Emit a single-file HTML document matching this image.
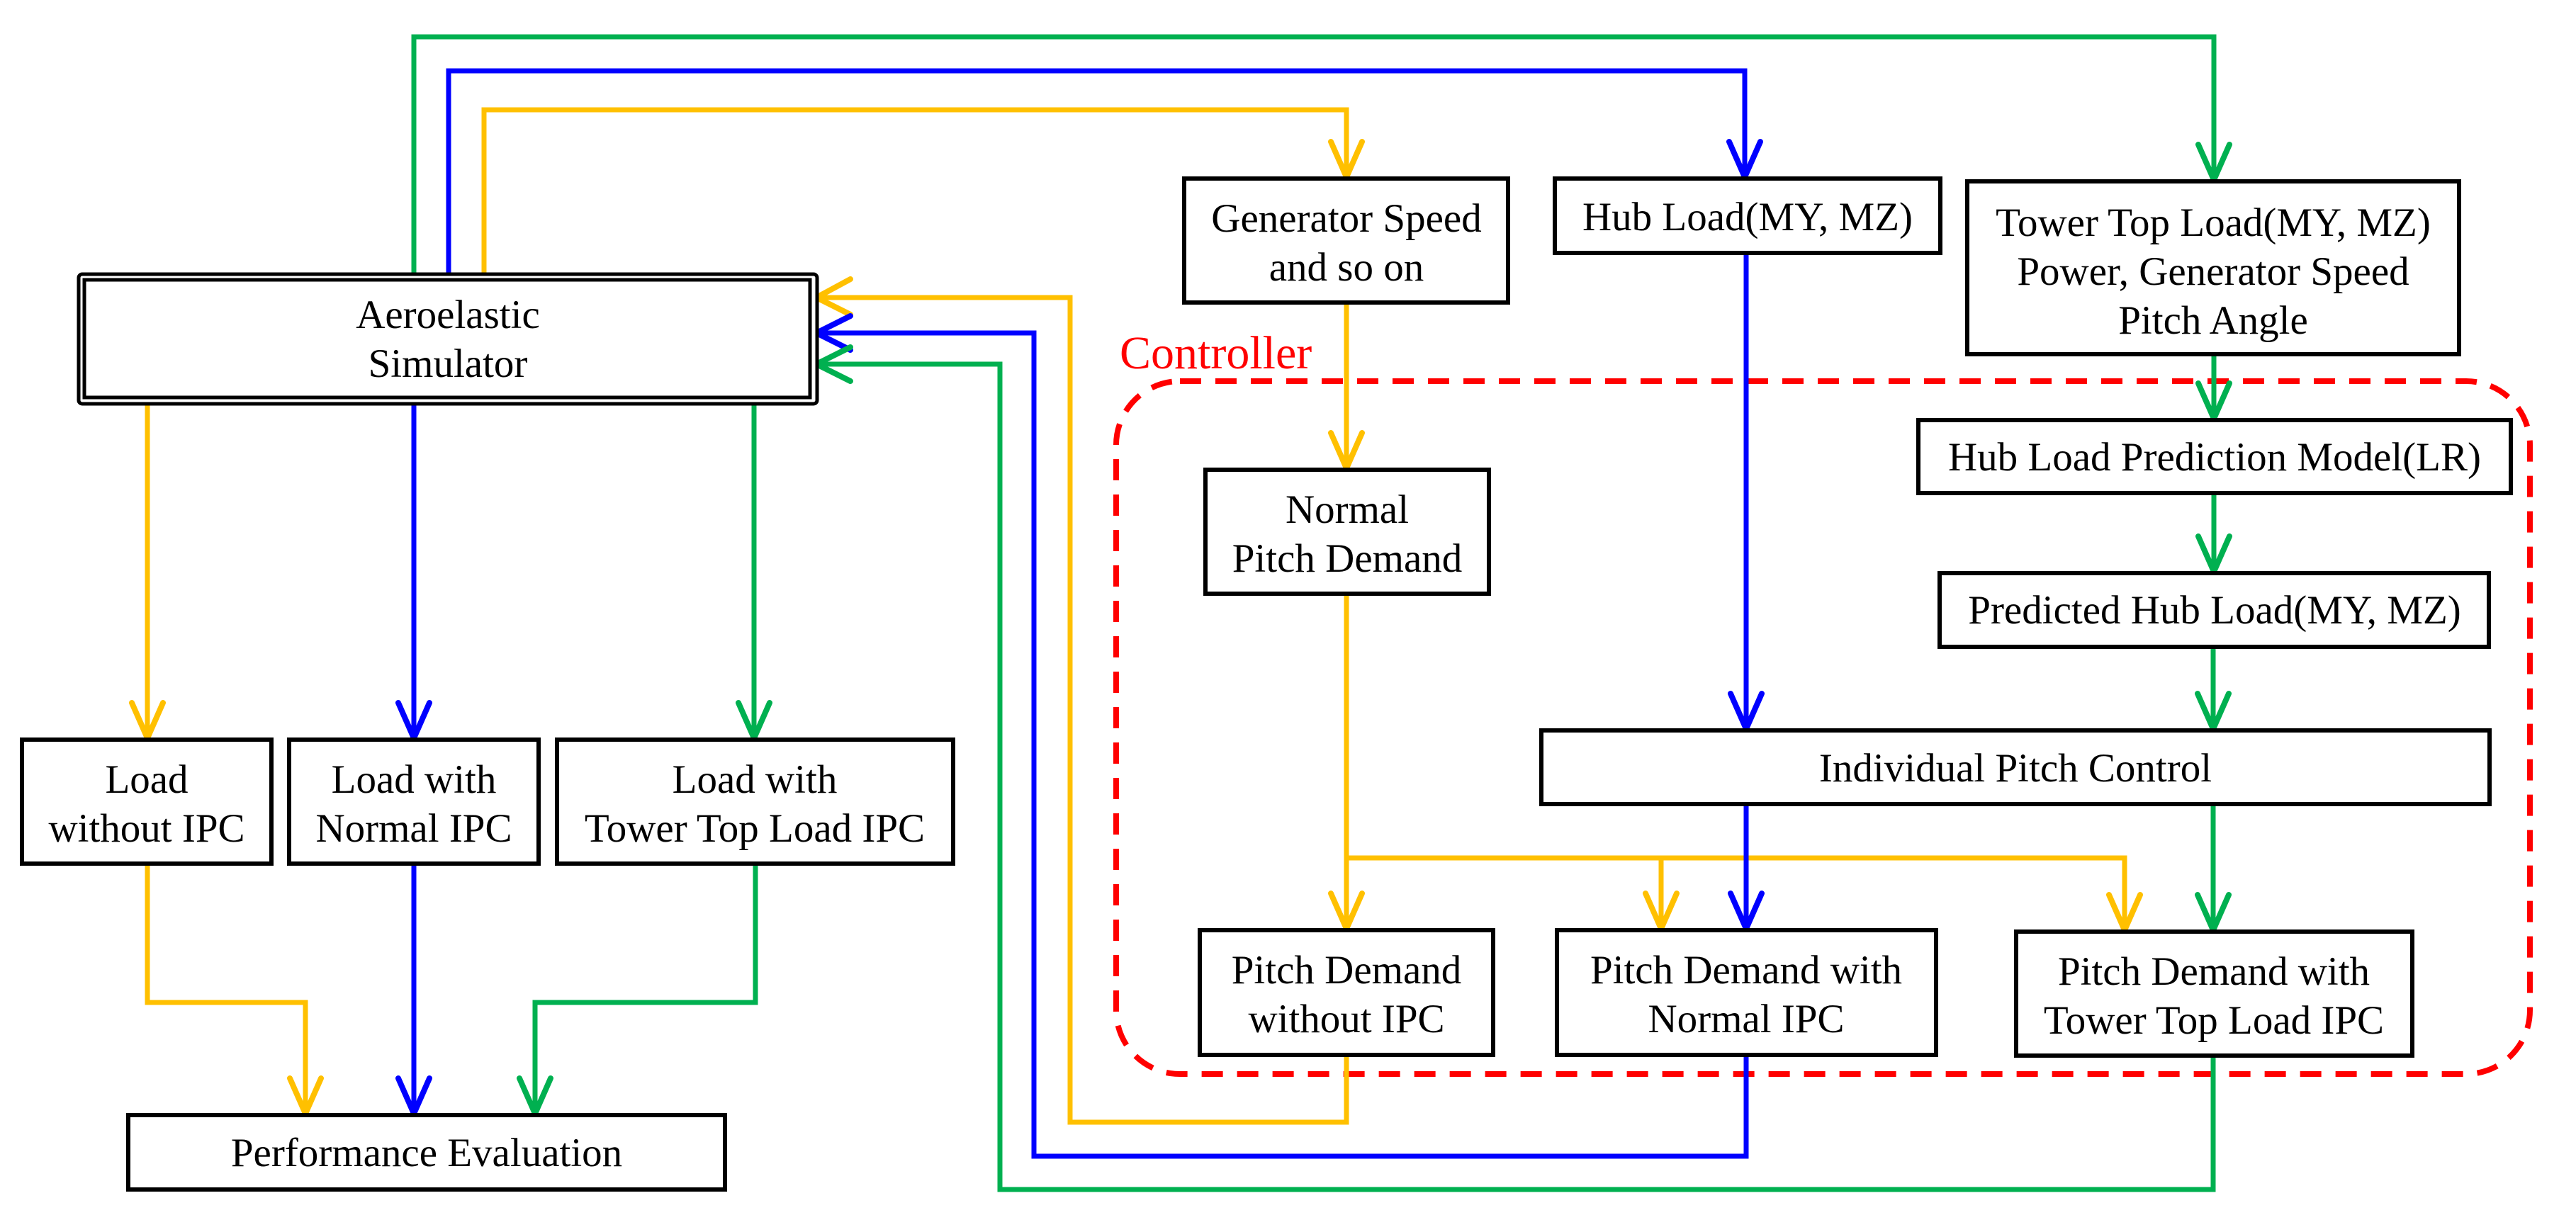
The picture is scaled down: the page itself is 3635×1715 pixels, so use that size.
<!DOCTYPE html>
<html><head><meta charset="utf-8"><style>
html,body{margin:0;padding:0;background:#fff;}
svg{display:block;}
text{font-family:"Liberation Serif","Times New Roman","DejaVu Serif",serif;font-size:57px;fill:#000;text-anchor:middle;}
</style></head><body>
<svg width="3635" height="1715" viewBox="0 0 3635 1715" xmlns="http://www.w3.org/2000/svg">
<defs>
<style>
.y{stroke:#FFC000;}.b{stroke:#0000FF;}.g{stroke:#00B050;}
.ln{fill:none;stroke-width:7;stroke-linejoin:miter;}
.ah{fill:none;stroke-width:8;stroke-linecap:round;stroke-linejoin:miter;}
.bx{fill:#fff;stroke:#000;stroke-width:6;}
</style>
</defs>

<rect x="1575" y="538" width="1995" height="978" rx="90" ry="90" fill="none" stroke="#FF0000" stroke-width="8" stroke-dasharray="30 20"/>
<text x="1580" y="520" style="font-size:66px;fill:#FF0000;text-anchor:start">Controller</text>

<path class="ln g" d="M584,387 V52 H3124 V254"/>
<path class="ln b" d="M633,387 V100 H2462 V250"/>
<path class="ln y" d="M683,387 V155 H1900 V250"/>
<path class="ln y" d="M1900,427 V661"/>
<path class="ln y" d="M1900,838 V1311"/>
<path class="ln y" d="M1900,1211 H2998 V1313"/>
<path class="ln y" d="M2344,1211 V1311"/>
<path class="ln b" d="M2464,357 V1029"/>
<path class="ln g" d="M3124,500 V591"/>
<path class="ln g" d="M3124,696 V807"/>
<path class="ln g" d="M3123,913 V1029"/>
<path class="ln b" d="M2464,1135 V1311"/>
<path class="ln g" d="M3123,1135 V1313"/>
<path class="ln y" d="M1900,1489 V1584 H1510 V420 H1155"/>
<path class="ln b" d="M2464,1490 V1632 H1459 V470 H1155"/>
<path class="ln g" d="M3123,1490 V1679 H1411 V514 H1155"/>
<path class="ln y" d="M208,570 V1042"/>
<path class="ln b" d="M584,570 V1042"/>
<path class="ln g" d="M1064,570 V1042"/>
<path class="ln y" d="M208,1219 V1415 H431 V1572"/>
<path class="ln b" d="M584,1219 V1572"/>
<path class="ln g" d="M1066,1219 V1415 H755 V1572"/>

<g>
<path class="ah g" d="M3102,204 L3124,254 L3146,204"/>
<path class="ah b" d="M2440,200 L2462,250 L2484,200"/>
<path class="ah y" d="M1878,200 L1900,250 L1922,200"/>
<path class="ah y" d="M1878,611 L1900,661 L1922,611"/>
<path class="ah g" d="M3102,541 L3124,591 L3146,541"/>
<path class="ah g" d="M3102,757 L3124,807 L3146,757"/>
<path class="ah g" d="M3101,979 L3123,1029 L3145,979"/>
<path class="ah b" d="M2442,979 L2464,1029 L2486,979"/>
<path class="ah y" d="M1878,1261 L1900,1311 L1922,1261"/>
<path class="ah y" d="M2322,1261 L2344,1311 L2366,1261"/>
<path class="ah b" d="M2442,1261 L2464,1311 L2486,1261"/>
<path class="ah y" d="M2976,1263 L2998,1313 L3020,1263"/>
<path class="ah g" d="M3101,1263 L3123,1313 L3145,1263"/>
<path class="ah y" d="M186,992 L208,1042 L230,992"/>
<path class="ah b" d="M562,992 L584,1042 L606,992"/>
<path class="ah g" d="M1042,992 L1064,1042 L1086,992"/>
<path class="ah y" d="M409,1522 L431,1572 L453,1522"/>
<path class="ah b" d="M562,1522 L584,1572 L606,1522"/>
<path class="ah g" d="M733,1522 L755,1572 L777,1522"/>
<path class="ah y" d="M1200,394 L1152,420 L1200,444"/>
<path class="ah b" d="M1200,446 L1152,470 L1200,494"/>
<path class="ah g" d="M1200,490 L1152,514 L1200,538"/>
</g>

<rect x="111" y="387" width="1042" height="183" rx="5" fill="#fff" stroke="#000" stroke-width="5"/>
<rect x="119" y="395" width="1024" height="166" fill="none" stroke="#000" stroke-width="5"/>
<text x="632" y="463">Aeroelastic</text>
<text x="632" y="532">Simulator</text>

<rect class="bx" x="1671" y="252" width="457" height="175"/>
<text x="1900" y="327">Generator Speed</text>
<text x="1900" y="396">and so on</text>
<rect class="bx" x="2194" y="252" width="544" height="105"/>
<text x="2466" y="325">Hub Load(MY, MZ)</text>
<rect class="bx" x="2776" y="256" width="694" height="244"/>
<text x="3123" y="333">Tower Top Load(MY, MZ)</text>
<text x="3123" y="402">Power, Generator Speed</text>
<text x="3123" y="471">Pitch Angle</text>

<rect class="bx" x="2707" y="593" width="836" height="103"/>
<text x="3125" y="664">Hub Load Prediction Model(LR)</text>
<rect class="bx" x="2737" y="809" width="775" height="104"/>
<text x="3125" y="880">Predicted Hub Load(MY, MZ)</text>
<rect class="bx" x="1701" y="663" width="400" height="175"/>
<text x="1901" y="738">Normal</text>
<text x="1901" y="807">Pitch Demand</text>
<rect class="bx" x="2175" y="1031" width="1338" height="104"/>
<text x="2844" y="1103">Individual Pitch Control</text>

<rect class="bx" x="1693" y="1313" width="414" height="176"/>
<text x="1900" y="1388">Pitch Demand</text>
<text x="1900" y="1457">without IPC</text>
<rect class="bx" x="2197" y="1313" width="535" height="176"/>
<text x="2464" y="1388">Pitch Demand with</text>
<text x="2464" y="1457">Normal IPC</text>
<rect class="bx" x="2845" y="1315" width="559" height="175"/>
<text x="3124" y="1390">Pitch Demand with</text>
<text x="3124" y="1459">Tower Top Load IPC</text>

<rect class="bx" x="31" y="1044" width="352" height="175"/>
<text x="207" y="1119">Load</text>
<text x="207" y="1188">without IPC</text>
<rect class="bx" x="408" y="1044" width="352" height="175"/>
<text x="584" y="1119">Load with</text>
<text x="584" y="1188">Normal IPC</text>
<rect class="bx" x="786" y="1044" width="559" height="175"/>
<text x="1065" y="1119">Load with</text>
<text x="1065" y="1188">Tower Top Load IPC</text>
<rect class="bx" x="181" y="1574" width="842" height="105"/>
<text x="602" y="1646">Performance Evaluation</text>
</svg>
</body></html>
